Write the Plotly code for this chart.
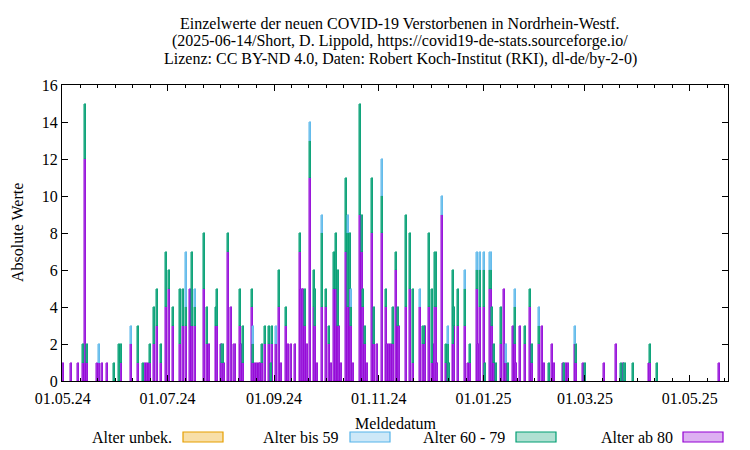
import pandas as pd
import plotly.graph_objects as go

# ---------------- data ----------------
start_date = "2024-05-01"
# day offsets from start_date (Meldedatum)
report_day = [0, 5, 9, 12, 13, 14, 20, 21, 23, 26, 30, 33, 34, 40, 44, 47, 48, 49, 50, 51,
              53, 55, 57, 60, 62, 64, 68, 70, 72, 74, 75, 77, 82, 84, 85, 89, 90, 92, 93, 94,
              96, 98, 100, 103, 104, 105, 110, 111, 112, 113, 114, 115, 116, 118, 120, 121, 122, 124, 126, 127,
              130, 131, 133, 135, 138, 139, 140, 141, 142, 144, 146, 147, 148, 151, 153, 155, 156, 158, 159, 160,
              161, 162, 165, 166, 167, 168, 169, 173, 174, 175, 176, 177, 180, 181, 183, 186, 188, 189, 190, 191,
              192, 194, 195, 196, 200, 202, 204, 208, 210, 211, 213, 215, 216, 217, 218, 221, 223, 224, 225, 227,
              228, 230, 234, 236, 237, 241, 242, 243, 245, 246, 249, 250, 251, 252, 255, 257, 258, 259, 262, 263,
              264, 266, 269, 272, 273, 277, 279, 280, 283, 285, 286, 291, 292, 293, 294, 298, 299, 303, 304, 315,
              322, 325, 326, 327, 332, 341, 342, 346, 382]
alter_ab_80 = [1, 1, 1, 1, 12, 1, 1, 1, 1, 1, 0, 0, 1, 2, 1, 0, 1, 1, 1, 1,
               2, 3, 1, 4, 5, 3, 2, 3, 3, 5, 3, 3, 5, 2, 2, 3, 3, 2, 1, 1,
               7, 4, 2, 3, 2, 1, 4, 1, 1, 1, 1, 1, 1, 2, 2, 0, 2, 2, 4, 1,
               3, 2, 2, 2, 7, 5, 5, 3, 2, 11, 4, 3, 1, 4, 4, 2, 1, 5, 5, 3,
               3, 1, 7, 4, 5, 3, 1, 9, 7, 4, 2, 1, 8, 2, 2, 8, 4, 2, 2, 2,
               2, 6, 3, 3, 4, 5, 1, 4, 2, 3, 4, 1, 2, 4, 1, 9, 1, 0, 0, 2,
               3, 3, 3, 1, 1, 5, 2, 4, 4, 0, 5, 3, 1, 0, 2, 5, 1, 0, 3, 2,
               1, 3, 2, 4, 1, 2, 3, 1, 0, 2, 1, 1, 0, 1, 1, 2, 1, 1, 0, 1,
               2, 0, 1, 0, 0, 1, 1, 0, 1]
alter_60_79 = [0, 0, 0, 1, 3, 1, 0, 0, 0, 0, 1, 2, 1, 0, 2, 1, 0, 0, 0, 1,
               2, 2, 1, 3, 1, 1, 3, 2, 1, 0, 4, 1, 3, 2, 0, 1, 2, 0, 1, 0,
               1, 0, 0, 2, 0, 2, 1, 1, 0, 0, 0, 0, 1, 1, 1, 1, 1, 0, 2, 0,
               1, 0, 0, 0, 1, 0, 0, 2, 0, 2, 2, 2, 0, 4, 1, 1, 0, 2, 3, 3,
               0, 0, 4, 4, 3, 1, 0, 6, 2, 1, 1, 0, 3, 2, 0, 2, 1, 0, 0, 0,
               2, 1, 1, 0, 5, 3, 4, 0, 1, 0, 4, 4, 0, 3, 0, 0, 1, 2, 1, 4,
               1, 2, 2, 0, 1, 1, 0, 2, 2, 1, 1, 1, 1, 1, 2, 0, 0, 1, 0, 2,
               0, 0, 1, 1, 1, 1, 0, 0, 1, 0, 0, 0, 1, 0, 0, 0, 1, 0, 1, 0,
               0, 1, 0, 1, 1, 0, 1, 1, 0]
alter_bis_59 = [0, 0, 0, 0, 0, 0, 0, 1, 0, 0, 0, 0, 0, 1, 0, 0, 0, 0, 0, 0,
                0, 0, 0, 0, 0, 0, 0, 0, 3, 0, 0, 1, 0, 0, 0, 0, 0, 0, 0, 0,
                0, 0, 0, 0, 0, 0, 0, 1, 0, 0, 0, 0, 0, 0, 0, 0, 0, 1, 0, 0,
                0, 0, 0, 0, 0, 0, 0, 0, 0, 1, 0, 0, 0, 1, 0, 0, 0, 0, 0, 0,
                0, 0, 0, 1, 0, 1, 0, 0, 0, 0, 0, 0, 0, 0, 0, 2, 0, 0, 0, 0,
                0, 0, 0, 0, 0, 0, 0, 1, 0, 0, 0, 0, 0, 0, 0, 1, 0, 1, 0, 0,
                0, 0, 1, 0, 0, 1, 0, 1, 1, 0, 1, 0, 0, 0, 0, 0, 1, 0, 0, 1,
                0, 0, 0, 0, 0, 1, 0, 0, 0, 0, 0, 0, 0, 0, 0, 1, 0, 0, 0, 0,
                0, 0, 0, 0, 0, 0, 0, 0, 0]
alter_unbek = [0] * len(report_day)

series_names = ["Alter unbek.", "Alter bis 59", "Alter 60 - 79", "Alter ab 80"]
x_tick_format = "%d.%m.%y"
y_ticks = list(range(0, 17, 2))

# ---------------- styling ----------------
FONT = "Liberation Serif"
line_cols = {"Alter unbek.": "#E69F00", "Alter bis 59": "#56B4E9",
             "Alter 60 - 79": "#009E73", "Alter ab 80": "#9400D3"}
bar_fill = {"Alter unbek.": "#EDB84A", "Alter bis 59": "#72C2EC",
            "Alter 60 - 79": "#20AA82", "Alter ab 80": "#A02EE0"}
legend_fill = {"Alter unbek.": "#F8DFA8", "Alter bis 59": "#CDE8F8",
               "Alter 60 - 79": "#B0E0D2", "Alter ab 80": "#DDB0F2"}

W, H = 750, 450
L, R, T, B = 62, 728, 85, 381


def px(xp):
    return (xp - L) / (R - L)


def py(yp):
    return (B - yp) / (B - T)


dates = pd.to_datetime(start_date) + pd.to_timedelta(report_day, unit="D")

fig = go.Figure()
stack = [("Alter ab 80", alter_ab_80), ("Alter 60 - 79", alter_60_79),
         ("Alter bis 59", alter_bis_59), ("Alter unbek.", alter_unbek)]
for name, vals in stack:
    shown = [v if v else None for v in vals]
    fig.add_trace(go.Bar(
        x=dates, y=shown, name=name, showlegend=False,
        marker=dict(color=bar_fill[name], line=dict(color=line_cols[name], width=0.5)),
        width=86400000 * 1.2,
    ))

# minor ticks: 6 subdivisions of each 2-month major interval
majors = pd.date_range("2024-03-01", "2025-07-01", freq="2MS")
minor_vals = []
for a, b in zip(majors[:-1], majors[1:]):
    for i in range(1, 6):
        minor_vals.append(a + (b - a) * i / 6)

fig.update_layout(
    width=W, height=H,
    margin=dict(l=L, r=W - R, t=T, b=H - B, autoexpand=False),
    plot_bgcolor="white", paper_bgcolor="white",
    barmode="stack", bargap=0,
    font=dict(family=FONT, size=16, color="black"),
    showlegend=False,
)
fig.update_xaxes(
    type="date", range=["2024-04-30 14:00", "2025-05-23 06:00"],
    tick0="2024-05-01", dtick="M2", tickformat=x_tick_format,
    ticks="inside", ticklen=6, tickcolor="black", tickwidth=1,
    showline=True, linecolor="black", linewidth=1, mirror="allticks",
    showgrid=False, zeroline=False, automargin=False, ticklabelstandoff=3,
    minor=dict(tickmode="array", tickvals=minor_vals, ticks="inside", ticklen=3,
               tickcolor="black", showgrid=False),
    tickfont=dict(family=FONT, size=16),
)
fig.update_yaxes(
    range=[0, 16], tickvals=y_ticks,
    ticks="inside", ticklen=6, tickcolor="black", tickwidth=1,
    showline=True, linecolor="black", linewidth=1, mirror="allticks",
    showgrid=False, zeroline=False, automargin=False,
    tickfont=dict(family=FONT, size=16),
)

annotations = []
title_lines = ["Einzelwerte der neuen COVID-19 Verstorbenen in Nordrhein-Westf.",
               "(2025-06-14/Short, D. Lippold, https://covid19-de-stats.sourceforge.io/",
               "Lizenz: CC BY-ND 4.0, Daten: Robert Koch-Institut (RKI), dl-de/by-2-0)"]
for i, t in enumerate(title_lines):
    annotations.append(dict(text=t, x=px(400), y=py(23 + 18 * i), xref="paper", yref="paper",
                            xanchor="center", yanchor="middle", showarrow=False,
                            font=dict(family=FONT, size=16)))
annotations.append(dict(text="Meldedatum", x=px(395), y=py(423), xref="paper", yref="paper",
                        xanchor="center", yanchor="middle", showarrow=False,
                        font=dict(family=FONT, size=16)))
annotations.append(dict(text="Absolute Werte", x=px(17), y=py(233), xref="paper", yref="paper",
                        xanchor="center", yanchor="middle", showarrow=False, textangle=-90,
                        font=dict(family=FONT, size=16)))

shapes = []
legend_pos = [(174, 183, 223), (341, 350, 390), (507, 516, 556), (675, 683, 723)]
for name, (tx, bx0, bx1) in zip(series_names, legend_pos):
    annotations.append(dict(text=name, x=px(tx), y=py(437), xref="paper", yref="paper",
                            xanchor="right", yanchor="middle", showarrow=False,
                            font=dict(family=FONT, size=16)))
    shapes.append(dict(type="rect", xref="paper", yref="paper",
                       x0=px(bx0), x1=px(bx1), y0=py(432), y1=py(442),
                       fillcolor=legend_fill[name], line=dict(color=line_cols[name], width=1.2)))

fig.update_layout(annotations=annotations, shapes=shapes)
fig.write_html("out.html", config={"displayModeBar": False},
               post_script="document.body.style.margin='0';")
